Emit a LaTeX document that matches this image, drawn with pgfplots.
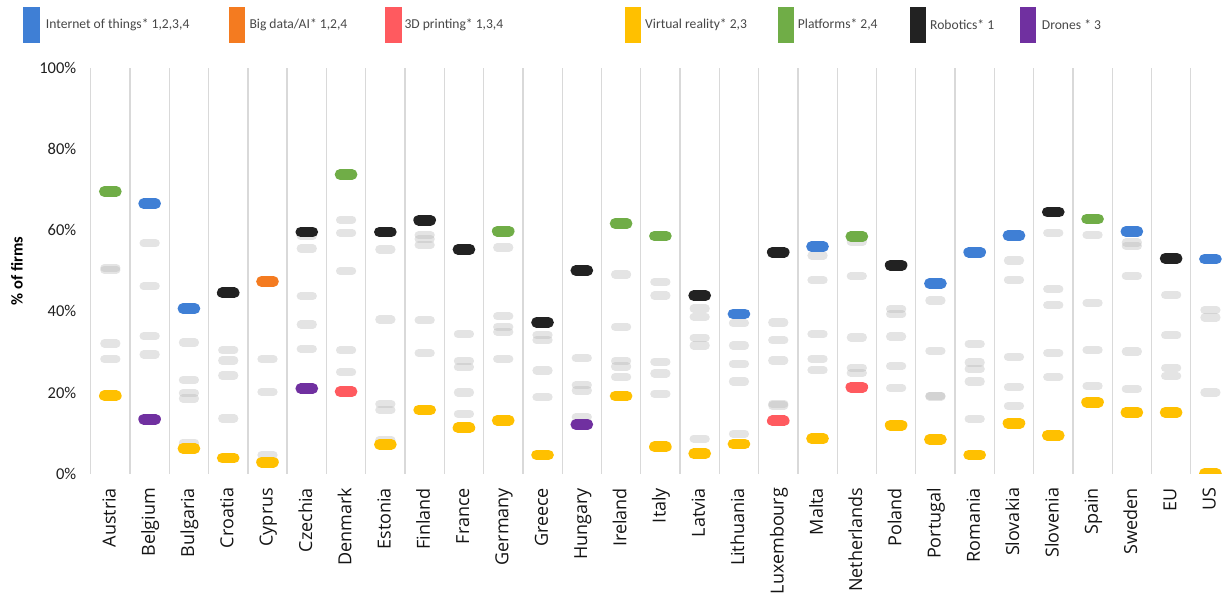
\documentclass[border=0pt]{standalone}
\usepackage{pgfplots}
\pgfplotsset{compat=1.18}
\usepackage{pgfplotstable}
\usepackage{fontspec}
\setmainfont{Carlito}
\newfontfamily\osans{Open Sans}

\definecolor{iot}{RGB}{63,127,213}
\definecolor{bigdata}{RGB}{244,123,32}
\definecolor{printd}{RGB}{255,90,95}
\definecolor{vr}{RGB}{255,192,0}
\definecolor{plat}{RGB}{112,173,71}
\definecolor{robot}{RGB}{34,34,34}
\definecolor{drone}{RGB}{112,48,160}
\definecolor{gridc}{RGB}{217,217,217}

% grey markers: other technologies (index of country, share of firms in %)
\pgfplotstableread{
x y
0 50.3
0 50.7
0 32.1
0 28.2
1 56.8
1 46.2
1 33.9
1 29.4
2 32.3
2 23.1
2 19.8
2 18.5
2 7.6
3 30.4
3 27.9
3 24.2
3 13.6
4 28.2
4 20.2
4 4.5
5 58.6
5 55.5
5 43.8
5 36.8
5 30.8
6 62.6
6 59.4
6 50.0
6 30.4
6 25.0
7 55.3
7 38.0
7 17.1
7 15.7
7 8.3
8 58.8
8 57.8
8 56.4
8 37.8
8 29.7
9 34.4
9 27.8
9 26.2
9 20.0
9 14.7
10 55.8
10 38.8
10 36.2
10 35.0
10 28.3
11 34.2
11 32.9
11 25.4
11 18.8
12 28.5
12 21.8
12 20.5
12 13.9
13 49.1
13 36.2
13 27.8
13 26.4
13 23.8
14 47.3
14 43.9
14 27.6
14 24.7
14 19.7
15 40.7
15 38.7
15 33.5
15 31.6
15 8.6
16 37.1
16 31.6
16 27.1
16 22.7
16 9.8
17 37.3
17 32.9
17 27.9
17 17.2
17 16.8
18 53.8
18 47.7
18 34.4
18 28.3
18 25.5
19 57.2
19 48.7
19 33.6
19 26.1
19 24.8
20 40.6
20 39.3
20 33.8
20 26.5
20 21.1
21 42.7
21 30.3
21 19.2
21 19.0
22 32.0
22 27.4
22 25.8
22 22.7
22 13.5
23 52.6
23 47.8
23 28.8
23 21.3
23 16.7
24 59.4
24 45.5
24 41.5
24 29.7
24 23.8
25 58.9
25 42.1
25 30.5
25 21.6
26 57.0
26 56.2
26 48.8
26 30.1
26 20.9
27 44.1
27 34.1
27 26.1
27 24.1
28 40.3
28 38.5
28 20.0
}\greydata

\pgfplotstableread{
x y
1 66.6
2 40.7
16 39.4
18 56.0
21 46.9
22 54.6
23 58.7
26 59.7
28 52.9
}\iotdata

\pgfplotstableread{
x y
4 47.4
}\bigdata

\pgfplotstableread{
x y
6 20.2
17 13.0
19 21.3
}\printdata

\pgfplotstableread{
x y
0 19.2
2 6.2
3 3.8
4 2.8
7 7.2
8 15.7
9 11.3
10 13.1
11 4.6
13 19.1
14 6.6
15 4.9
16 7.3
18 8.6
20 11.9
21 8.4
22 4.6
23 12.4
24 9.4
25 17.6
26 15.1
27 15.1
28 0.0
}\vrdata

\pgfplotstableread{
x y
0 69.6
6 73.8
10 59.8
13 61.7
14 58.6
19 58.5
25 62.8
}\platdata

\pgfplotstableread{
x y
3 44.6
5 59.6
7 59.6
8 62.5
9 55.3
11 37.3
12 50.1
15 43.9
17 54.6
20 51.4
24 64.5
27 53.1
}\robotdata

\pgfplotstableread{
x y
1 13.4
5 21.0
12 12.1
}\dronedata

\pgfplotsset{
  capsule/.style={only marks, mark=-, mark size=6pt,
    mark options={line width=10.7pt, line cap=round, solid}},
}

\begin{document}
\begin{tikzpicture}[x=1pt,y=1pt]
\path[use as bounding box] (0,0) rectangle (1227,595);
\begin{axis}[
  at={(90.7pt,121.5pt)}, anchor=south west,
  scale only axis, width=1139.4pt, height=405.2pt,
  xmin=-0.5, xmax=28.5, ymin=0, ymax=100,
  clip marker paths=true,
  axis line style={draw=none},
  major tick length=0pt, minor tick length=0pt,
  xtick={0,...,28},
  xticklabels={Austria,Belgium,Bulgaria,Croatia,Cyprus,Czechia,Denmark,Estonia,Finland,France,Germany,Greece,Hungary,Ireland,Italy,Latvia,Lithuania,Luxembourg,Malta,Netherlands,Poland,Portugal,Romania,Slovakia,Slovenia,Spain,Sweden,EU,US},
  xticklabel style={font=\osans\fontsize{18}{21}\selectfont, text=black!92,
    rotate=90, anchor=east, inner sep=0pt, outer ysep=0pt, outer xsep=14.5pt,
    text height=1.25em, text depth=0.2em},
  minor xtick={-0.5,0.5,...,27.5},
  xminorgrids=true,
  minor grid style={draw=gridc, line width=1.3pt},
  ytick={0,20,...,100},
  yticklabel={\pgfmathprintnumber{\tick}\%},
  /pgf/number format/assume math mode=true,
  yticklabel style={font=\fontsize{16.5}{19}\selectfont, text=black!88, anchor=east,
    inner sep=0pt, outer ysep=0pt, outer xsep=14.5pt},
  ylabel={\textbf{\% of firms}},
  every axis y label/.style={at={(axis description cs:0,0.5)}, rotate=90, anchor=center, yshift=73.7pt,
    font=\fontsize{16.5}{19}\selectfont, text=black},
]
\addplot[only marks, mark=-, mark size=6pt, color=black!30,
  mark options={line width=8.3pt, line cap=round, opacity=0.35}] table[x=x,y=y] {\greydata};
\addplot[capsule, color=iot] table[x=x,y=y] {\iotdata};
\addplot[capsule, color=bigdata] table[x=x,y=y] {\bigdata};
\addplot[capsule, color=printd] table[x=x,y=y] {\printdata};
\addplot[capsule, color=vr] table[x=x,y=y] {\vrdata};
\addplot[capsule, color=plat] table[x=x,y=y] {\platdata};
\addplot[capsule, color=robot] table[x=x,y=y] {\robotdata};
\addplot[capsule, color=drone] table[x=x,y=y] {\dronedata};
\end{axis}
% legend
\begin{scope}[every node/.style={anchor=west, inner sep=0pt, font=\fontsize{13.6}{15}\selectfont, text=black!72}]
\fill[iot] (23.3,552) rectangle (40,588);      \node at (45.7,570) {Internet of things* 1,2,3,4};
\fill[bigdata] (228.7,552) rectangle (245,588); \node at (249.3,570) {Big data/AI* 1,2,4};
\fill[printd] (385,552) rectangle (401.7,588);  \node at (404.3,570) {3D printing* 1,3,4};
\fill[vr] (625.3,552) rectangle (641.3,588);    \node at (645,570) {Virtual reality* 2,3};
\fill[plat] (778.3,552) rectangle (794.3,588);  \node at (797.7,570) {Platforms* 2,4};
\fill[robot] (910,552) rectangle (926,588);     \node at (930,570) {Robotics* 1};
\fill[drone] (1020,552) rectangle (1036,588);   \node at (1041.7,570) {Drones * 3};
\end{scope}
\end{tikzpicture}
\end{document}
